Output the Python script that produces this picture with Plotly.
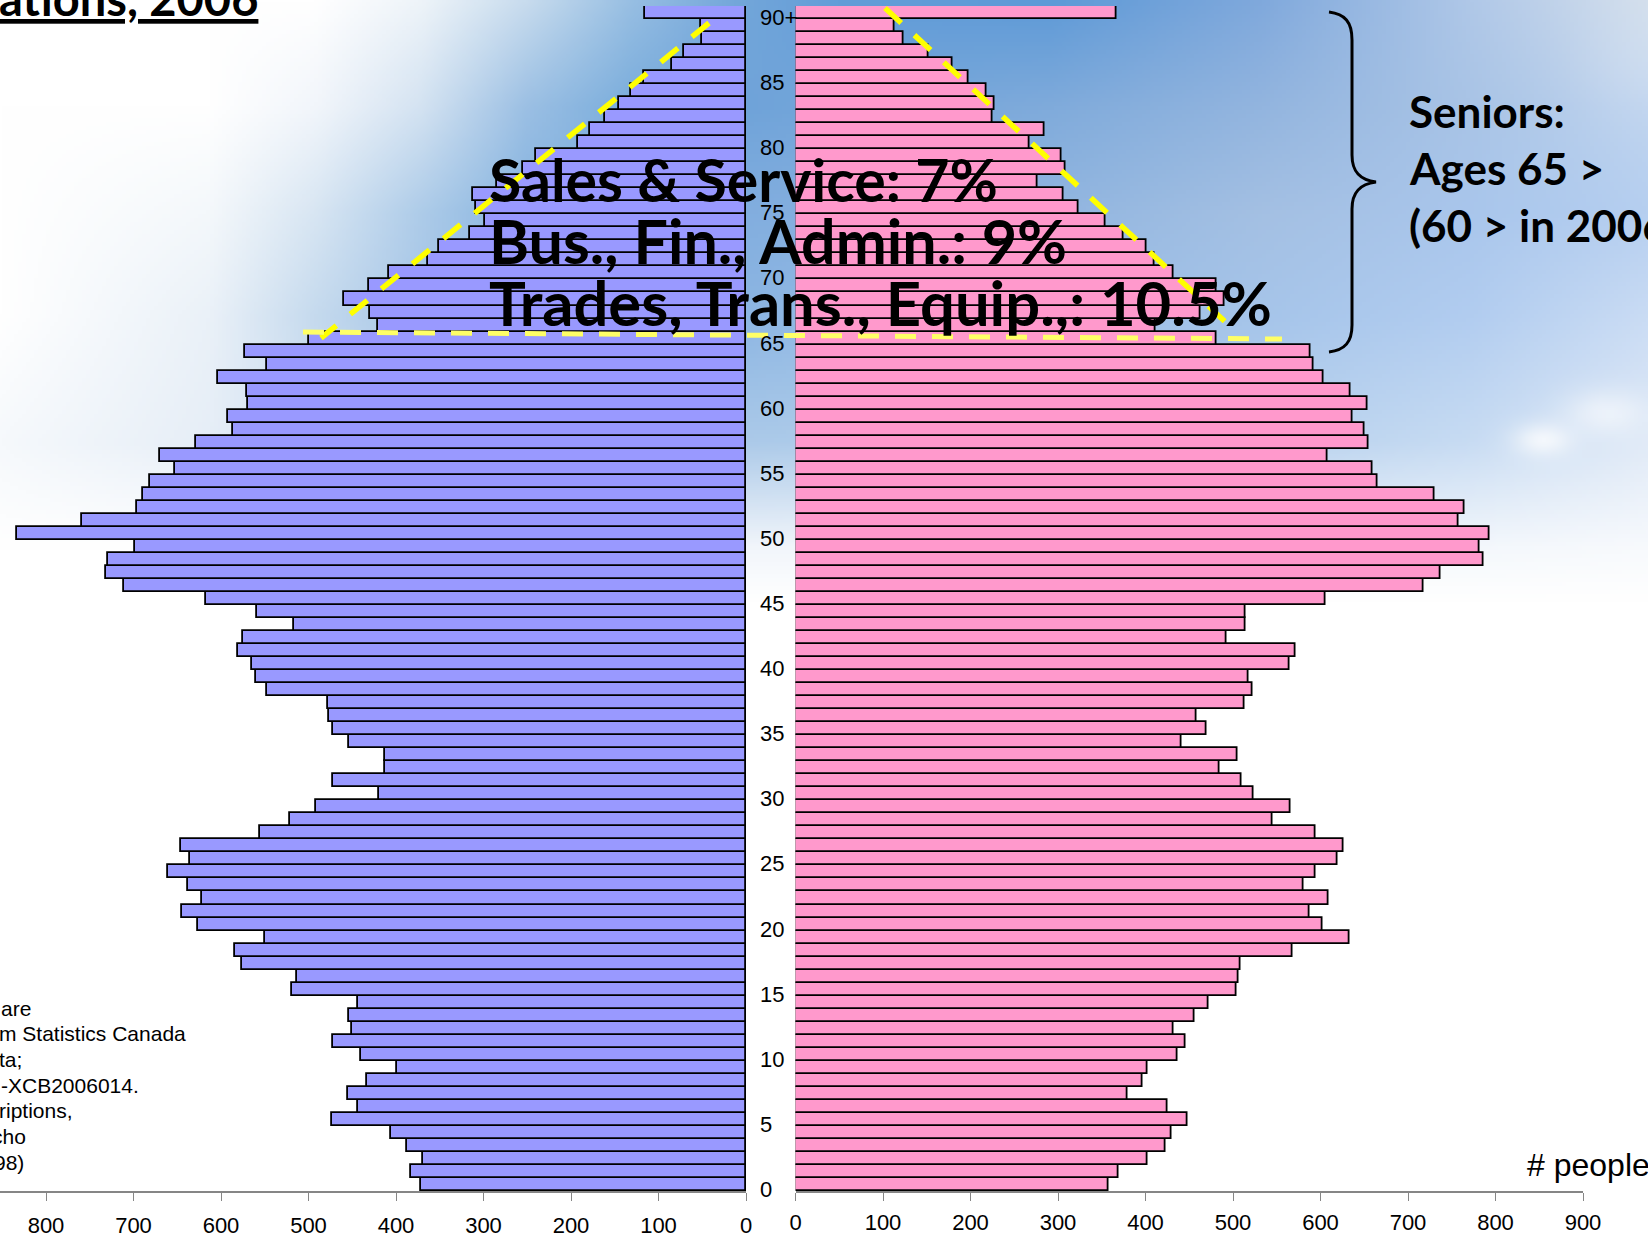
import base64, zlib, struct
import numpy as np
import plotly.graph_objects as go

# ---------- data ----------
ages = list(range(0, 91))
male = [372,383,369,387,406,473,444,455,433,399,440,472,450,454,444,
        519,513,576,584,550,626,645,622,638,661,636,646,556,521,492,
        420,472,413,413,454,472,477,478,547,560,565,581,575,517,559,
        617,711,732,729,698,833,759,696,689,681,653,670,629,586,592,
        569,570,604,547,573,500,421,430,459,431,408,363,351,315,298,
        309,312,285,255,240,192,178,161,145,132,117,85,71,50,51,115]
female = [358,369,402,423,430,448,425,379,396,402,436,446,432,456,472,
          504,506,508,568,633,602,587,609,581,594,619,626,594,545,566,
          523,510,485,505,441,470,458,513,522,518,565,571,493,514,514,
          606,718,737,786,782,793,758,764,730,665,659,608,655,650,637,
          654,634,603,592,589,481,411,463,490,481,432,410,401,375,354,
          323,306,276,309,304,267,285,225,227,218,198,179,152,123,113,367]
left_ticks = [800,700,600,500,400,300,200,100,0]
right_ticks = [0,100,200,300,400,500,600,700,800,900]
age_ticks = [0,5,10,15,20,25,30,35,40,45,50,55,60,65,70,75,80,85,90]
age_labels = ["0","5","10","15","20","25","30","35","40","45","50","55","60","65","70","75","80","85","90+"]
box_lines = ["Sales &amp; Service: 7%", "Bus., Fin., Admin.: 9%", "Trades, Trans., Equip.,: 10.5%"]
senior_lines = ["Seniors:", "Ages 65 &gt;", "(60 &gt; in 2006)"]
note_lines = ["are", "m Statistics Canada", "ta;", "-XCB2006014.", "riptions,", "cho", "98)"]

# ---------- canvas helpers ----------
W, H = 1648, 1235
def fx(p): return p / W
def fy(p): return 1 - p / H

# ---------- background ----------
bg_x = [0,200,300,400,500,600,700,800,1000,1200,1400,1568]
bg_y = [0,100,200,300,420,520,570,1175]
bg_rows = [
 "FFFFFF FFFFFF FFFFFF EEF4F9 C8DCEE 98BFE3 74A7DA 639DD8 5E9AD7 80A9DC B0C8E8 D2DEEC",
 "FFFFFF FFFFFF F2F6FB D4E3F2 9CC0E4 7AADDC 6FA3D9 74A6DA 80ABDB 93B5DF A9C4E6 BED3EE",
 "FFFFFF F4F8FB D8E6F3 AECCE9 86B4E0 80AEDE 82AEDF 85AFDF 92B6E0 A4C0E3 A9C6EC B6CFF0",
 "FFFFFF EAF1F8 C5DAEE A6C6E7 95BBE4 90B8E4 8DB6E3 92BAE4 9DBFE7 A6C5EA B2CDF0 CADCF4",
 "F6F9FC E6EEF7 CFE0F1 C0D6EE B6D0EC B0CCEB ACCAE9 AECCEA B2CEEC B8D2EE C8DCF3 E0EAF7",
 "FFFFFF FFFFFF FCFDFE F8FAFD F5F8FC F3F7FC F2F6FB F2F6FB F3F7FC F4F8FC F4F8FC F8FAFD",
 "FFFFFF FFFFFF FFFFFF FFFFFF FFFFFF FFFFFF FFFFFF FFFFFF FFFFFF FFFFFF FFFFFF FFFFFF",
 "FFFFFF FFFFFF FFFFFF FFFFFF FFFFFF FFFFFF FFFFFF FFFFFF FFFFFF FFFFFF FFFFFF FFFFFF",
]
grid = np.array([[[int(c[i:i+2],16) for i in (0,2,4)] for c in r.split()] for r in bg_rows], float)
iw, ih = 412, 309
xs = np.linspace(0,1568,iw); ys = np.linspace(0,1175,ih)
tmp = np.stack([np.stack([np.interp(xs,bg_x,grid[j,:,k]) for j in range(len(bg_y))]) for k in range(3)],-1)
img = np.stack([np.stack([np.interp(ys,bg_y,tmp[:,i,k]) for i in range(iw)],1) for k in range(3)],-1)
X,Y = np.meshgrid(xs,ys)
for cx,cy,sx,sy,a in [(1470,418,28,16,.75),(1530,392,40,22,.55),(1560,60,60,60,.12)]:
    m = a*np.exp(-((X-cx)/sx)**2-((Y-cy)/sy)**2)
    img = img*(1-m[...,None]) + 255*m[...,None]
def png(a):
    a = a.clip(0,255).astype("uint8")
    raw = b"".join(b"\x00"+r.tobytes() for r in a)
    def ch(t,d): return struct.pack(">I",len(d))+t+d+struct.pack(">I",zlib.crc32(t+d))
    return b"\x89PNG\r\n\x1a\n"+ch(b"IHDR",struct.pack(">IIBBBBB",a.shape[1],a.shape[0],8,2,0,0,0))+ch(b"IDAT",zlib.compress(raw))+ch(b"IEND",b"")
bg_src = "data:image/png;base64,"+base64.b64encode(png(img)).decode()

# ---------- figure ----------
PX = 0.875
fig = go.Figure()
edge = dict(color="#000000", width=1.8)
fig.add_trace(go.Bar(y=ages, x=male, orientation="h", width=1, marker=dict(color="#9999FF", line=edge),
                     xaxis="x", yaxis="y", showlegend=False, hoverinfo="skip"))
fig.add_trace(go.Bar(y=ages, x=female, orientation="h", width=1, marker=dict(color="#FF99CC", line=edge),
                     xaxis="x2", yaxis="y", showlegend=False, hoverinfo="skip"))

tick_font = dict(family="Liberation Sans, Arial", size=22, color="#000000")
axis_common = dict(showgrid=False, zeroline=False, showline=True, linecolor="#868686", linewidth=1.5,
                   ticks="outside", ticklen=8, tickcolor="#868686", tickwidth=1, tickfont=tick_font,
                   anchor="y", tickmode="array", fixedrange=True, automargin=False)
shapes = []
def dash_line(x0,y0,x1,y1,color,on,off,w):
    shapes.append(dict(type="line",xref="paper",yref="paper",x0=fx(x0),y0=fy(y0),x1=fx(x1),y1=fy(y1),
                       line=dict(color=color,width=w,dash=f"{on}px,{off}px"),layer="above"))
dash_line(709,23,321,338,"#FFFF00",22,18,5.5)
dash_line(885,8,1232,328,"#FFFF00",22,18,5.5)
dash_line(303,332,1282,339,"#FFFF66",21,16,5)
pts = [(1329,12),(1345,14),(1352,22),(1352,40),(1352,155),(1352,172),(1360,180),(1376,182),
       (1360,184),(1352,192),(1352,209),(1352,325),(1352,342),(1345,350),(1329,352)]
p = [f"{fx(a):.5f},{fy(b):.5f}" for a,b in pts]
path = f"M {p[0]} C {p[1]} {p[2]} {p[3]} L {p[4]} C {p[5]} {p[6]} {p[7]} C {p[8]} {p[9]} {p[10]} L {p[11]} C {p[12]} {p[13]} {p[14]}"
shapes.append(dict(type="path",xref="paper",yref="paper",path=path,line=dict(color="#000000",width=3),layer="above"))

ann = []
for a,l in zip(age_ticks,age_labels):
    ann.append(dict(xref="paper",yref="y",x=fx(761),y=a,yshift=-5,text=l,showarrow=False,xanchor="left",yanchor="middle",
                    font=tick_font,xshift=-3))
bold = "Lato, Carlito, Calibri, sans-serif"
box_sizes = [59, 61, 61.5]
for i,t in enumerate(box_lines):
    ann.append(dict(xref="paper",yref="paper",x=fx(487),y=fy(179+i*61.5),text=f"<b>{t}</b>",showarrow=False,
                    xanchor="left",yanchor="middle",font=dict(family=bold,size=box_sizes[i],color="#000000")))
for i,t in enumerate(senior_lines):
    ann.append(dict(xref="paper",yref="paper",x=fx(1407),y=fy(111+i*57),text=f"<b>{t}</b>",showarrow=False,
                    xanchor="left",yanchor="middle",font=dict(family=bold,size=44,color="#000000")))
note_ends = [33,187.5,23.5,140.5,74.5,28,26]
for i,t in enumerate(note_lines):
    ann.append(dict(xref="paper",yref="paper",x=fx(note_ends[i]),y=fy(1008+i*25.7),text=t,showarrow=False,
                    xanchor="right",yanchor="middle",font=dict(family="Liberation Sans, Arial",size=21,color="#000000")))
ann.append(dict(xref="paper",yref="paper",x=1,xshift=4,y=fy(1165),text="# people",showarrow=False,xanchor="right",yanchor="middle",
                font=dict(family="Liberation Sans, Arial",size=32,color="#000000")))
ann.append(dict(xref="paper",yref="paper",x=fx(260),y=fy(-2),text="<b><u>ations, 2006</u></b>",showarrow=False,
                xanchor="right",yanchor="middle",font=dict(family=bold,size=47,color="#000000")))

fig.update_layout(
    template="none",
    width=W, height=H, autosize=False, margin=dict(l=0,r=0,t=0,b=0,pad=0),
    paper_bgcolor="#FFFFFF", plot_bgcolor="rgba(0,0,0,0)", bargap=0, showlegend=False,
    images=[dict(source=bg_src,xref="paper",yref="paper",x=0,y=1,sizex=1,sizey=1,xanchor="left",yanchor="top",
                 sizing="stretch",layer="below")],
    xaxis=dict(domain=[0,fx(746)], range=[746/PX,0], tickvals=left_ticks, ticktext=[str(v) for v in left_ticks], ticklabelstandoff=6, **axis_common),
    xaxis2=dict(domain=[fx(795.5),fx(1583)], range=[0,900], tickvals=right_ticks, ticktext=[str(v) for v in right_ticks], ticklabelstandoff=3, **axis_common),
    yaxis=dict(domain=[fy(1191),fy(6)], range=[-0.5,90.5], showticklabels=False, showgrid=False, zeroline=False,
               showline=False, ticks="", anchor="x", fixedrange=True, automargin=False),
    shapes=shapes, annotations=ann,
)
fig.write_html("out.html", config=dict(displayModeBar=False),
               post_script="document.body.style.margin='0';document.body.style.overflow='hidden';")
